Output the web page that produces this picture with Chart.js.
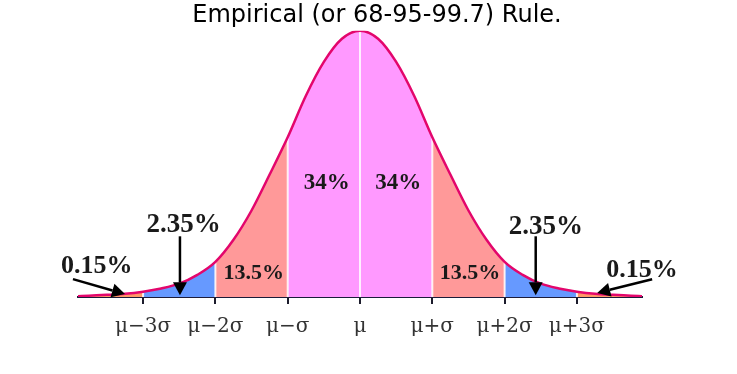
<!DOCTYPE html>
<html>
<head>
<meta charset="utf-8">
<script src="https://cdn.jsdelivr.net/npm/chart.js@4.4.1/dist/chart.umd.min.js"></script>
<style>
  html, body { margin: 0; padding: 0; background: #fff; }
  #wrap { width: 737px; height: 374px; position: relative; }
</style>
</head>
<body>
<div id="wrap"><canvas id="rule"></canvas></div>
<script>
/* ===== Data (x in sigma units, height relative to peak) ===== */
const xs      = [-3.9, -3.75, -3.5, -3.25, -3, -2.75, -2.5, -2.25, -2, -1.75, -1.5, -1.25, -1, -0.75, -0.5, -0.25, 0,
                 0.25, 0.5, 0.75, 1, 1.25, 1.5, 1.75, 2, 2.25, 2.5, 2.75, 3, 3.25, 3.5, 3.75, 3.9];
const heights = [0.003, 0.005, 0.008, 0.012, 0.02, 0.032, 0.05, 0.083, 0.132, 0.215, 0.325, 0.46, 0.6, 0.755, 0.883, 0.97, 1.0,
                 0.97, 0.883, 0.755, 0.6, 0.46, 0.325, 0.215, 0.132, 0.083, 0.05, 0.032, 0.02, 0.012, 0.008, 0.005, 0.003];

const tickVals   = [-3, -2, -1, 0, 1, 2, 3];
const tickLabels = ['μ−3σ', 'μ−2σ', 'μ−σ', 'μ', 'μ+σ', 'μ+2σ', 'μ+3σ'];

const bandEdges  = [-3, -2, -1, 1, 2, 3];
const bandColors = ['#ff9966', '#6699ff', '#ff9999', '#ff99ff', '#ff9999', '#6699ff', '#ff9966'];

const pctTexts = ['34%', '34%', '13.5%', '13.5%', '2.35%', '2.35%', '0.15%', '0.15%'];
const pctX     = [-0.46, 0.53, -1.47, 1.52, -2.44, 2.57, -3.64, 3.9];
const pctY     = [0.427, 0.427, 0.09, 0.09, 0.27, 0.262, 0.116, 0.10];
const pctSize  = [23, 23, 22, 22, 27, 27, 26, 26];

// arrows: [x1, y1, x2, y2] in data units, head at the second point
const arrows = [
  [-2.49, 0.228, -2.49, 0.007],
  [ 2.43, 0.228,  2.43, 0.007],
  [-3.97, 0.067, -3.25, 0.011],
  [ 4.04, 0.067,  3.28, 0.015]
];

/* ===== Helpers ===== */
const curve = xs.map((x, i) => ({ x, y: heights[i] }));

function bandGradient(c){
  const chart = c.chart;
  const area = chart.chartArea;
  if (!area) return bandColors[3];
  const sx = chart.scales.x;
  const w = area.right - area.left;
  const g = chart.ctx.createLinearGradient(area.left, 0, area.right, 0);
  let prev = 0;
  bandEdges.forEach((e, i) => {
    const p = Math.min(1, Math.max(0, (sx.getPixelForValue(e) - area.left) / w));
    g.addColorStop(prev, bandColors[i]);
    g.addColorStop(p, bandColors[i]);
    prev = p;
  });
  g.addColorStop(prev, bandColors[bandColors.length - 1]);
  g.addColorStop(1, bandColors[bandColors.length - 1]);
  return g;
}

const dividers = tickVals.map(v => ({
  data: [{ x: v, y: 0 }, { x: v, y: heights[xs.indexOf(v)] }],
  borderColor: 'rgba(255,255,255,0.85)', borderWidth: 2,
  pointRadius: 0, fill: false, order: 1
}));

// invisible side axes: they only reserve room so the title sits off-centre like the original
const spacer = (w, pos) => ({
  position: pos, display: true, min: 0, max: 1,
  ticks: { display: false }, grid: { display: false }, border: { display: false },
  afterFit: (s) => { s.width = w; }
});

/* ===== Labels + arrows ===== */
const annotate = {
  id: 'annotate',
  afterDraw(chart){
    const { ctx, scales: { x, y } } = chart;
    ctx.save();
    ctx.fillStyle = '#1a1a1a';
    ctx.textAlign = 'center';
    ctx.textBaseline = 'middle';
    pctTexts.forEach((t, i) => {
      ctx.font = `bold ${pctSize[i]}px "Liberation Serif", "Times New Roman", serif`;
      ctx.fillText(t, x.getPixelForValue(pctX[i]), y.getPixelForValue(pctY[i]));
    });
    ctx.strokeStyle = '#000';
    ctx.fillStyle = '#000';
    ctx.lineWidth = 2.5;
    arrows.forEach(([x1, y1, x2, y2]) => {
      const ax = x.getPixelForValue(x1), ay = y.getPixelForValue(y1);
      const bx = x.getPixelForValue(x2), by = y.getPixelForValue(y2);
      const ang = Math.atan2(by - ay, bx - ax);
      const len = 13, half = 7;
      const cx = bx - len * Math.cos(ang), cy = by - len * Math.sin(ang);
      ctx.beginPath(); ctx.moveTo(ax, ay); ctx.lineTo(cx, cy); ctx.stroke();
      ctx.beginPath();
      ctx.moveTo(bx, by);
      ctx.lineTo(cx + half * Math.sin(ang), cy - half * Math.cos(ang));
      ctx.lineTo(cx - half * Math.sin(ang), cy + half * Math.cos(ang));
      ctx.closePath(); ctx.fill();
    });
    ctx.restore();
  }
};

/* ===== Chart ===== */
new Chart(document.getElementById('rule').getContext('2d'), {
  type: 'line',
  data: {
    datasets: [
      { data: curve, borderColor: '#e3066c', borderWidth: 2.5, pointRadius: 0,
        cubicInterpolationMode: 'monotone', fill: false, order: 0 },
      ...dividers,
      { data: curve, borderWidth: 0, borderColor: 'rgba(0,0,0,0)', pointRadius: 0,
        cubicInterpolationMode: 'monotone', fill: 'origin', backgroundColor: bandGradient, order: 2 }
    ]
  },
  options: {
    responsive: true,
    maintainAspectRatio: false,
    animation: false,
    events: [],
    layout: { padding: { left: 20, right: 3, top: 0, bottom: 24 } },
    plugins: {
      legend: { display: false },
      tooltip: { enabled: false },
      title: {
        display: true,
        text: 'Empirical (or 68-95-99.7) Rule.',
        color: '#000',
        font: { family: '"DejaVu Sans", Verdana, sans-serif', size: 24, weight: 'normal' },
        padding: { top: 1, bottom: 1 }
      }
    },
    scales: {
      x: {
        type: 'linear', min: -3.9, max: 3.9, z: 1,
        afterBuildTicks: (axis) => { axis.ticks = tickVals.map(v => ({ value: v })); },
        ticks: {
          callback: (v) => tickLabels[tickVals.indexOf(v)],
          color: '#333', padding: 11, maxRotation: 0, autoSkip: false,
          font: { family: '"DejaVu Serif", "Liberation Serif", serif', size: 20 }
        },
        grid: { drawOnChartArea: false, drawTicks: true, tickLength: 7, color: '#1c1c2c', lineWidth: 2 },
        border: { display: true, color: '#1c1c3a', width: 2 }
      },
      y: Object.assign(spacer(58, 'left'), { min: 0, max: 1 }),
      yr: spacer(92, 'right')
    }
  },
  plugins: [annotate]
});
</script>
</body>
</html>
